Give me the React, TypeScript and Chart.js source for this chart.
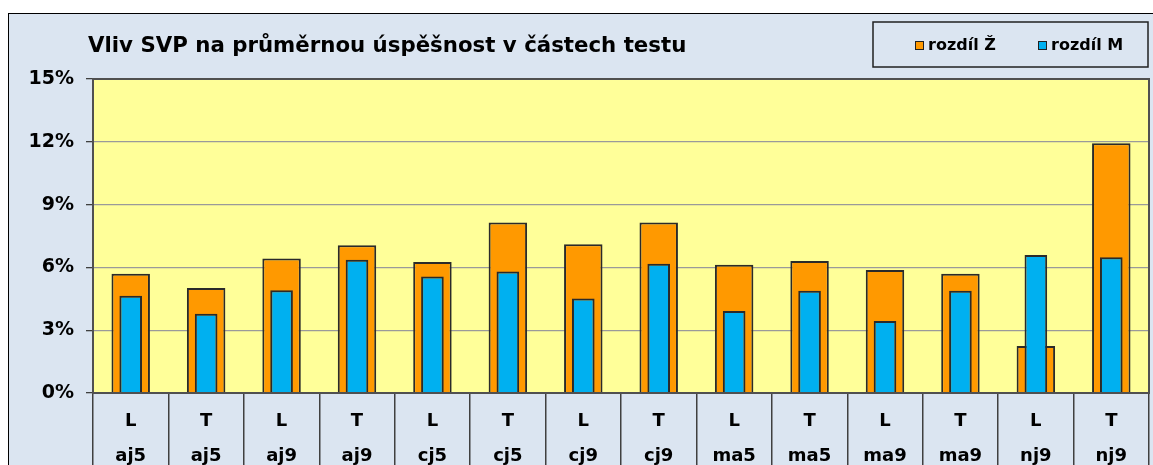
import React, { useEffect, useRef } from 'react';
import { Chart, registerables } from 'chart.js';

Chart.register(...registerables);

const chartTitle = 'Vliv SVP na průměrnou úspěšnost v částech testu';
const parts = ['L', 'T', 'L', 'T', 'L', 'T', 'L', 'T', 'L', 'T', 'L', 'T', 'L', 'T'];
const subjects = ['aj5', 'aj5', 'aj9', 'aj9', 'cj5', 'cj5', 'cj9', 'cj9', 'ma5', 'ma5', 'ma9', 'ma9', 'nj9', 'nj9'];
const rozdilZ = [5.7, 5.02, 6.42, 7.06, 6.26, 8.14, 7.1, 8.14, 6.13, 6.31, 5.88, 5.7, 2.25, 11.93];
const rozdilM = [4.65, 3.79, 4.91, 6.37, 5.56, 5.81, 4.52, 6.18, 3.92, 4.89, 3.44, 4.89, 6.59, 6.48];
const seriesNames = ['rozdíl Ž', 'rozdíl M'];
const seriesColors = ['#ff9900', '#00b0f0'];
const yMin = 0;
const yMax = 15;
const yStep = 3;

const FONT = '"DejaVu Sans", Verdana, sans-serif';

const plotBgPlugin = {
  id: 'plotBg',
  beforeDraw(chart: any) {
    const { ctx, chartArea } = chart;
    ctx.save();
    ctx.fillStyle = '#ffff99';
    ctx.fillRect(chartArea.left, chartArea.top, chartArea.right - chartArea.left, chartArea.bottom - chartArea.top);
    ctx.restore();
  },
  afterDatasetsDraw(chart: any) {
    const { ctx, chartArea } = chart;
    ctx.save();
    ctx.strokeStyle = '#505050';
    ctx.lineWidth = 2;
    ctx.strokeRect(chartArea.left, chartArea.top, chartArea.right - chartArea.left, chartArea.bottom - chartArea.top);
    ctx.restore();
  },
};

const titleLegendPlugin = {
  id: 'titleLegend',
  afterDraw(chart: any) {
    const { ctx } = chart;
    ctx.save();
    // title
    ctx.fillStyle = '#000';
    ctx.font = `bold 21.3px ${FONT}`;
    ctx.textAlign = 'left';
    ctx.textBaseline = 'alphabetic';
    ctx.fillText(chartTitle, 79, 38);
    // legend box
    ctx.strokeStyle = '#202020';
    ctx.lineWidth = 1.5;
    ctx.strokeRect(864, 8, 275, 45);
    const ds = chart.data.datasets;
    const xs = [906, 1029];
    ctx.font = `bold 16px ${FONT}`;
    ctx.textBaseline = 'middle';
    ds.forEach((d: any, i: number) => {
      const x = xs[i];
      ctx.fillStyle = d.backgroundColor;
      ctx.fillRect(x, 27, 8, 8);
      ctx.strokeStyle = '#202020';
      ctx.lineWidth = 1;
      ctx.strokeRect(x + 0.5, 27.5, 8, 8);
      ctx.fillStyle = '#000';
      ctx.fillText(d.label, x + 13, 32);
    });
    ctx.restore();
  },
};

export default function App() {
  const canvasRef = useRef<HTMLCanvasElement | null>(null);

  useEffect(() => {
    if (!canvasRef.current) return;
    const labels = parts.map((p, i) => [p, subjects[i]]);
    const chart = new Chart(canvasRef.current, {
      type: 'bar',
      data: {
        labels,
        datasets: [
          {
            label: seriesNames[0],
            data: rozdilZ,
            backgroundColor: seriesColors[0],
            borderColor: '#2a2a2a',
            borderWidth: 2,
            barPercentage: 1,
            categoryPercentage: 0.51,
            grouped: false,
            order: 2,
          } as any,
          {
            label: seriesNames[1],
            data: rozdilM,
            backgroundColor: seriesColors[1],
            borderColor: '#2a2a2a',
            borderWidth: 2,
            barPercentage: 1,
            categoryPercentage: 0.3,
            grouped: false,
            order: 1,
          } as any,
        ],
      },
      options: {
        responsive: false,
        animation: false,
        layout: { padding: { top: 65, right: 18, left: 0, bottom: 0 } },
        plugins: {
          legend: { display: false },
          title: { display: false },
          tooltip: { enabled: false },
        },
        scales: {
          x: {
            offset: true,
            border: { display: false },
            grid: {
              offset: true,
              drawOnChartArea: false,
              drawTicks: true,
              tickLength: 94,
              color: '#404040',
              lineWidth: 1.5,
            },
            ticks: {
              autoSkip: false,
              maxRotation: 0,
              minRotation: 0,
              padding: -83.5,
              color: '#000',
              font: { family: FONT, size: 18, weight: 'bold', lineHeight: 35 / 18 },
            },
            afterFit(scale: any) {
              scale.height = 94;
            },
          },
          y: {
            min: yMin,
            max: yMax,
            border: { display: false },
            grid: {
              color: '#9a9a9a',
              tickColor: '#404040',
              lineWidth: 1.3,
              tickLength: 7,
            },
            ticks: {
              stepSize: yStep,
              padding: 12,
              color: '#000',
              font: { family: FONT, size: 19, weight: 'bold' },
              callback: (v: any) => `${v}%`,
            },
            afterFit(scale: any) {
              scale.width = 84;
            },
          },
        },
      } as any,
      plugins: [plotBgPlugin, titleLegendPlugin],
    });
    return () => chart.destroy();
  }, []);

  return (
    <div style={{ position: 'fixed', inset: 0, overflow: 'hidden', background: '#fff' }}>
      <div
        style={{
          position: 'absolute',
          left: 8,
          top: 13,
          width: 1160,
          height: 475,
          border: '1px solid #000',
          boxSizing: 'border-box',
          background: '#dbe5f1',
        }}
      >
        <canvas ref={canvasRef} width={1158} height={473} style={{ display: 'block', width: 1158, height: 473 }} />
      </div>
    </div>
  );
}
